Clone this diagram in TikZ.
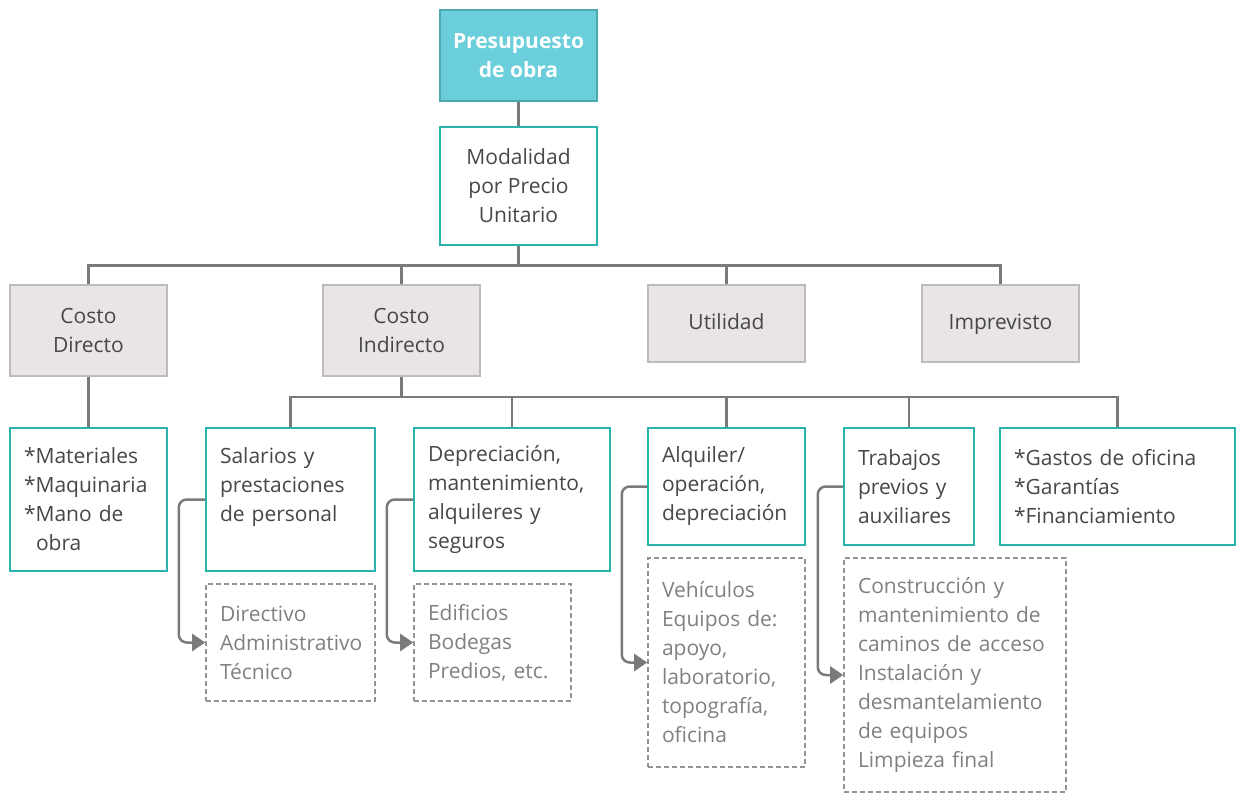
\documentclass[tikz,border=0pt]{standalone}
\usepackage{fontspec}
\setmainfont{Open Sans}
\usepackage{xcolor}
\usepackage{tikz}
\usetikzlibrary{arrows.meta,positioning}
\definecolor{BoxTeal}{HTML}{2AB2AC}
\definecolor{HeadFill}{HTML}{6ACFDB}
\definecolor{HeadBorder}{HTML}{4DA9B1}
\definecolor{CostFill}{HTML}{E8E4E8}
\definecolor{CostBorder}{HTML}{BEBABE}
\definecolor{LineGray}{HTML}{7A7A7A}
\definecolor{TextGray}{HTML}{474747}
\definecolor{SoftGray}{HTML}{808080}

\begin{document}
\begin{tikzpicture}[
  x=1pt, y=-1pt,
  font=\fontsize{21}{29}\selectfont,
  text=TextGray,
  headbox/.style={rectangle, draw=HeadBorder, fill=HeadFill, line width=2.5pt, text=white, font=\fontsize{21}{29}\selectfont\bfseries, align=center, minimum width=157pt, minimum height=91pt, inner sep=0pt},
  mainbox/.style={rectangle, draw=BoxTeal, fill=white, line width=2.5pt, align=center, minimum width=157pt, inner sep=0pt},
  costbox/.style={rectangle, draw=CostBorder, fill=CostFill, line width=2pt, align=center, minimum width=157pt, inner sep=0pt},
  itembox/.style={rectangle, draw=BoxTeal, fill=white, line width=2.5pt, align=left, inner xsep=14pt, inner ysep=0pt},
  notebox/.style={rectangle, draw=SoftGray!85, dash pattern=on 5pt off 3pt, line width=1.6pt, text=SoftGray, align=left, inner xsep=14pt, inner ysep=0pt},
  link/.style={draw=LineGray, line width=2.5pt},
  elbow/.style={draw=LineGray, line width=2.5pt, rounded corners=8pt, -{Triangle[length=13pt,width=17pt]}, fill=none},
]
\useasboundingbox (0,0) rectangle (1238,794);

% levels 1 and 2
\node[headbox] (budget) at (518.5,55.5) {Presupuesto\\de obra};
\node[mainbox, minimum height=118pt] (mode) at (518.5,186) {Modalidad\\por Precio\\Unitario};

% level 3
\node[costbox, minimum height=91pt] (direct) at (88.5,330.5) {Costo\\Directo};
\node[costbox, minimum height=77pt, text depth=4pt] (profit) at (726.5,323.5) {Utilidad};
\node[costbox, minimum height=91pt] (indirect) at (401.5,330.5) {Costo\\Indirecto};
\node[costbox, minimum height=77pt, text depth=4pt] (contingency) at (1000.5,323.5) {Imprevisto};

% level 4
\node[itembox, text width=129pt, minimum height=143pt] (materials) at (88.5,499.5) {*Materiales\\{}*Maquinaria\\{}*Mano de\\\hspace*{12pt}obra};
\node[itembox, text width=141pt, minimum height=143pt] (salary) at (290.5,499.5) {Salarios y\\prestaciones\\de personal\\\mbox{}};
\node[itembox, text width=168pt, minimum height=143pt] (deprec) at (512,499.5) {Depreciación,\\mantenimiento,\\alquileres y\\seguros};
\node[itembox, text width=129pt, minimum height=117pt] (rental) at (726.5,486.5) {Alquiler/\\operación,\\depreciación};
\node[itembox, text width=102pt, minimum height=117pt] (prework) at (909,486.5) {Trabajos\\previos y\\auxiliares};
\node[itembox, text width=207pt, minimum height=117pt] (office) at (1117.5,486.5) {*Gastos de oficina\\{}*Garantías\\{}*Financiamiento};

% detail notes
\node[notebox, text width=141pt, minimum height=117pt] (staff) at (290.5,642.5) {Directivo\\Administrativo\\Técnico};
\node[notebox, text width=129pt, minimum height=117pt] (buildings) at (492.5,642.5) {Edificios\\Bodegas\\Predios, etc.};
\node[notebox, text width=129pt, minimum height=209pt] (vehicles) at (726.5,662.5) {Vehículos\\Equipos de:\\apoyo,\\laboratorio,\\topografía,\\oficina};
\node[notebox, text width=194pt, minimum height=234pt] (roads) at (955,675) {Construcción y\\mantenimiento de\\caminos de acceso\\Instalación y\\desmantelamiento\\de equipos\\Limpieza final};

% tree connectors
\draw[link] (budget) -- (mode);
\draw[link] (mode.south) -- ++(0,19) coordinate (bus1);
\foreach \n in {direct,indirect,profit,contingency}
  \draw[link] (bus1) -| (\n.north);
\draw[link] (direct) -- (materials);
\draw[link] (indirect.south) -- ++(0,20) coordinate (bus2);
\foreach \n in {salary,deprec,rental,prework,office}
  \draw[link] (bus2) -| (\n.north);

% side arrows
\draw[elbow] (salary.west) -- ++(-26,0) |- (staff.west);
\draw[elbow] (deprec.west) -- ++(-26,0) |- (buildings.west);
\draw[elbow] (rental.west) -- ++(-25,0) |- (vehicles.west);
\draw[elbow] (prework.west) -- ++(-25,0) |- (roads.west);
\end{tikzpicture}
\end{document}
